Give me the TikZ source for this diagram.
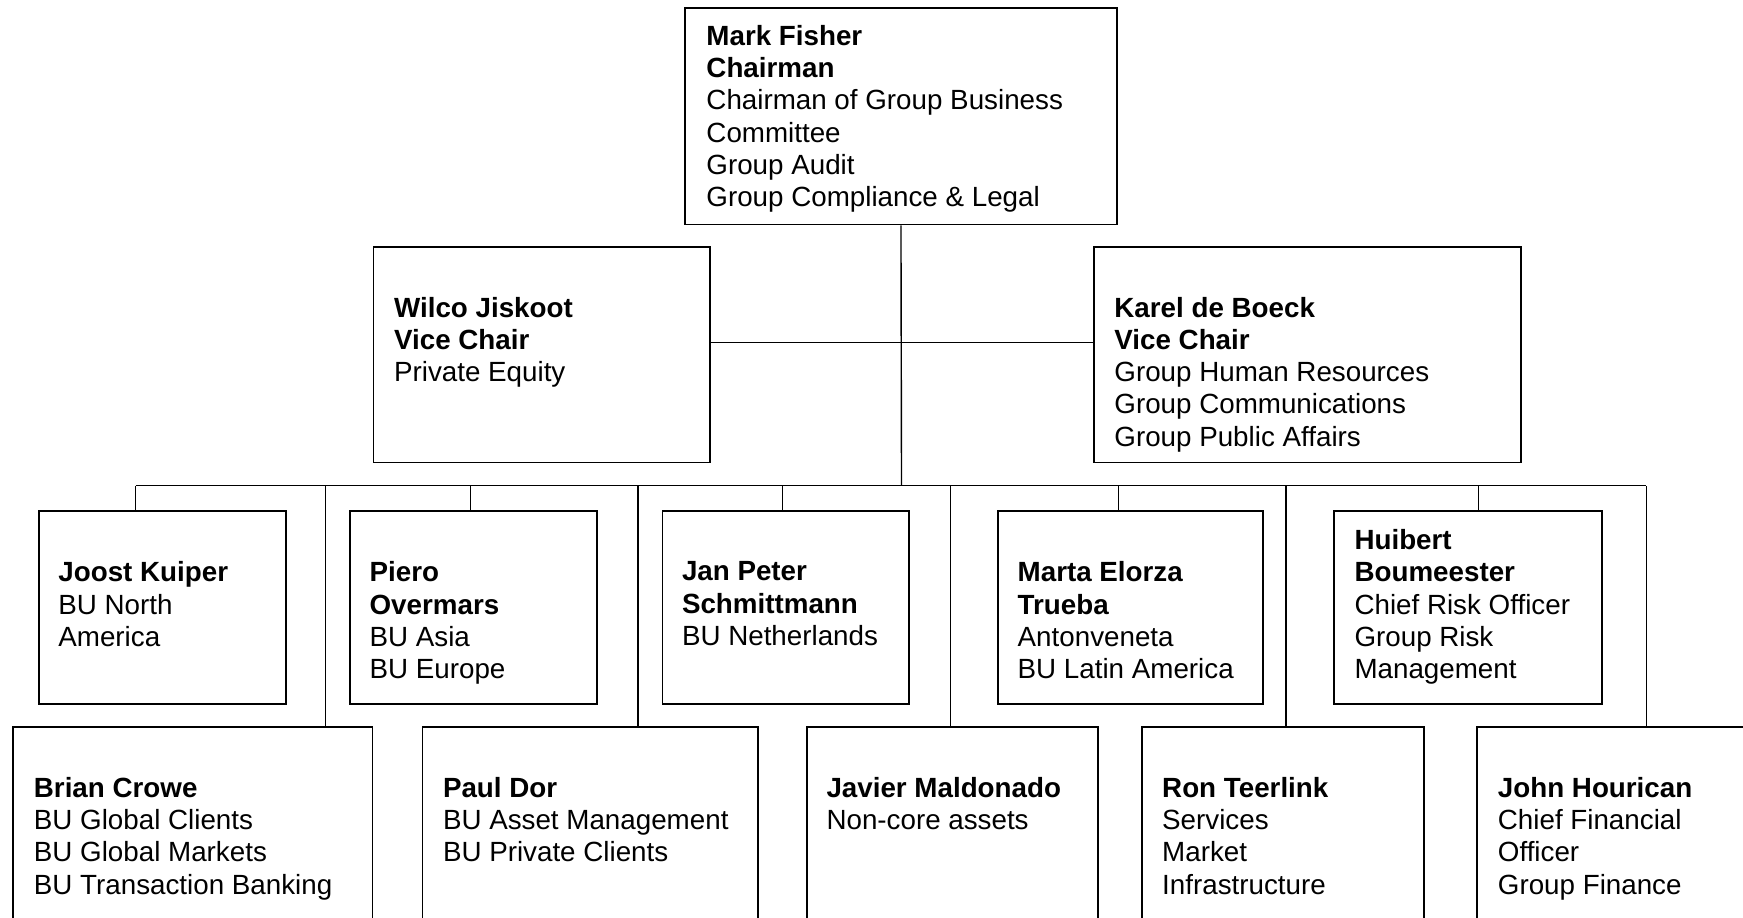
\documentclass[tikz,border=0pt]{standalone}
\usepackage{fontspec}
\setmainfont{Liberation Sans}
\usepackage{tikz}
\usetikzlibrary{fit}
\tikzstyle{block} = [rectangle, draw, line width=1pt, inner sep=0pt]
\tikzstyle{boxtext} = [anchor=north west, align=left, inner sep=0pt,
font=\fontsize{15.8}{18.34}\selectfont, execute at begin node={\rule{0pt}{14pt}}]
\tikzstyle{line} = [draw, line width=0.8pt]

\begin{document}
\begin{tikzpicture}[x=0.02223cm, y=-0.02223cm]
\useasboundingbox (0,0) rectangle (1568,825);
\clip (0,0) rectangle (1568,825);

% Place nodes
\node [block, fit={(616,7) (1005,202)}] (fisher) {};
\node [block, fit={(336,222) (639,416)}] (wilco) {};
\node [block, fit={(984,222) (1368,416)}] (karel) {};
\node [block, fit={(35,460) (257,633)}] (joost) {};
\node [block, fit={(315,460) (537,633)}] (piero) {};
\node [block, fit={(596,460) (818,633)}] (jan) {};
\node [block, fit={(898,460) (1136,633)}] (marta) {};
\node [block, fit={(1200,460) (1441,633)}] (huibert) {};
\node [block, fit={(12,654) (335,900)}] (brian) {};
\node [block, fit={(380,654) (682,900)}] (paul) {};
\node [block, fit={(726,654) (988,900)}] (javier) {};
\node [block, fit={(1027,654) (1281,900)}] (ron) {};
\node [block, fit={(1329,654) (1620,900)}] (john) {};

% Texts
\node [boxtext] (fisher text) at ([shift={(20,16.3)}]fisher.north west)
{\textbf{Mark Fisher}\\ \textbf{Chairman}\\ Chairman of Group Business\\
Committee\\ Group Audit\\ Group Compliance \& Legal};
\node [boxtext] (wilco text) at ([shift={(19,45.8)}]wilco.north west)
{\textbf{Wilco Jiskoot}\\ \textbf{Vice Chair}\\ Private Equity};
\node [boxtext] (karel text) at ([shift={(19,45.8)}]karel.north west)
{\textbf{Karel de Boeck}\\ \textbf{Vice Chair}\\ Group Human Resources\\
Group Communications\\ Group Public Affairs};
\node [boxtext] (joost text) at ([shift={(18,45.8)}]joost.north west)
{\textbf{Joost Kuiper}\\ BU North\\ America};
\node [boxtext] (piero text) at ([shift={(18,45.8)}]piero.north west)
{\textbf{Piero}\\ \textbf{Overmars}\\ BU Asia\\ BU Europe};
\node [boxtext] (jan text) at ([shift={(18,45.8)}]jan.north west)
{\textbf{Jan Peter}\\ \textbf{Schmittmann}\\ BU Netherlands};
\node [boxtext] (marta text) at ([shift={(18,45.8)}]marta.north west)
{\textbf{Marta Elorza}\\ \textbf{Trueba}\\ Antonveneta\\ BU Latin America};
\node [boxtext] (huibert text) at ([shift={(19,16.8)}]huibert.north west)
{\textbf{Huibert}\\ \textbf{Boumeester}\\ Chief Risk Officer\\ Group Risk\\
Management};
\node [boxtext] (brian text) at ([shift={(19,45.8)}]brian.north west)
{\textbf{Brian Crowe}\\ BU Global Clients\\ BU Global Markets\\
BU Transaction Banking};
\node [boxtext] (paul text) at ([shift={(19,45.8)}]paul.north west)
{\textbf{Paul Dor}\\ BU Asset Management\\ BU Private Clients};
\node [boxtext] (javier text) at ([shift={(18,45.8)}]javier.north west)
{\textbf{Javier Maldonado}\\ Non-core assets};
\node [boxtext] (ron text) at ([shift={(19,45.8)}]ron.north west)
{\textbf{Ron Teerlink}\\ Services\\ Market\\ Infrastructure};
\node [boxtext] (john text) at ([shift={(19,45.8)}]john.north west)
{\textbf{John Hourican}\\ Chief Financial\\ Officer\\ Group Finance};

% Draw edges
\coordinate (hub) at (811,308);
\coordinate (bus) at (811,437);
\coordinate (busL) at (122,437);
\coordinate (busR) at (1481,437);
\path [line] (fisher.south) -- (bus);
\path [line] (wilco.east |- hub) -- (karel.west |- hub);
\path [line] (busL) -- (busR);
\foreach \n/\x in {joost/122, piero/423, jan/704, marta/1006, huibert/1330,
brian/293, paul/574, javier/855, ron/1157, john/1481}
\path [line] (busL -| \x,0) -- (\n.north -| \x,0);
\end{tikzpicture}
\end{document}
